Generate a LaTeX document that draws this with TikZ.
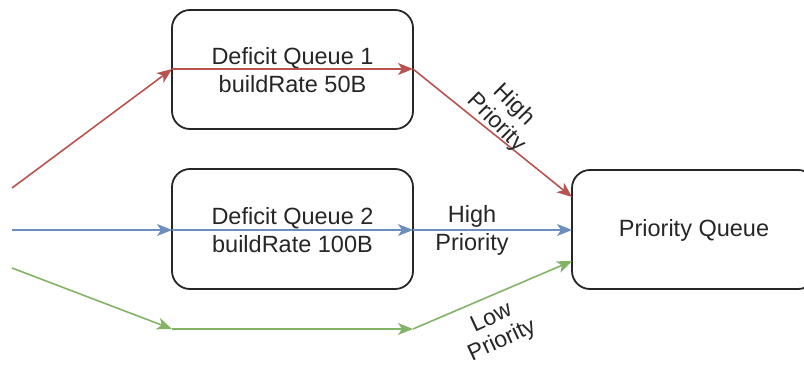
\documentclass[tikz,border=0pt]{standalone}
\usepackage{fontspec}
\setmainfont{Liberation Sans}
\usetikzlibrary{arrows.meta}
\definecolor{redl}{HTML}{B85450}
\definecolor{bluel}{HTML}{6C8EBF}
\definecolor{greenl}{HTML}{82B366}
\definecolor{txt}{HTML}{262626}
\begin{document}
\begin{tikzpicture}[x=1pt,y=-1pt,
  box/.style={draw=black!85,line width=1.8pt,rounded corners=18pt},
  lbl/.style={text=txt,font=\fontsize{23.5}{28}\selectfont,align=center,inner sep=0pt},
  rlbl/.style={text=txt,font=\fontsize{23}{25}\selectfont,align=center,inner sep=0pt},
  flow/.style={line width=1.6pt,-{Stealth[length=15pt,width=12pt,inset=4pt]}},
]
\useasboundingbox (0,0) rectangle (804,367);
\begin{scope}
\clip (0,0) rectangle (804,367);
\draw[box] (172,10) rectangle (413,129);
\draw[box] (172,169) rectangle (413,289);
\draw[box] (572,170) rectangle (816,289);
\end{scope}
\node[lbl] (dq1) at (292.5,70) {Deficit Queue 1\\buildRate 50B};
\node[lbl] (dq2) at (292.5,230) {Deficit Queue 2\\buildRate 100B};
\node[lbl] (pq) at (694,230) {Priority Queue};
% coordinates
\coordinate (rin) at (12,188);
\coordinate (r1) at (172,69);
\coordinate (r2) at (413,69);
\coordinate (r3) at (572,197);
\coordinate (bin) at (12,230);
\coordinate (b1) at (172,230);
\coordinate (b2) at (413,230);
\coordinate (b3) at (572,230);
\coordinate (gin) at (12,268);
\coordinate (g1) at (172,329);
\coordinate (g2) at (413,329);
\coordinate (g3) at (572,261);
\draw[flow,redl] (rin) -- (r1);
\draw[flow,redl] (r1) -- (r2);
\draw[flow,redl] (r2) -- (r3);
\draw[flow,bluel] (bin) -- (b1);
\draw[flow,bluel] (b1) -- (b2);
\draw[flow,bluel] (b2) -- (b3);
\draw[flow,greenl] (gin) -- (g1);
\draw[flow,greenl] (g1) -- (g2);
\draw[flow,greenl] (g2) -- (g3);
\node[rlbl,rotate=-45] (lhp1) at (505,114) {High\\Priority};
\node[lbl] (lhp2) at (472,230) {High\\Priority};
\node[rlbl,rotate=25] (llp) at (497,330) {Low\\Priority};
\end{tikzpicture}
\end{document}
